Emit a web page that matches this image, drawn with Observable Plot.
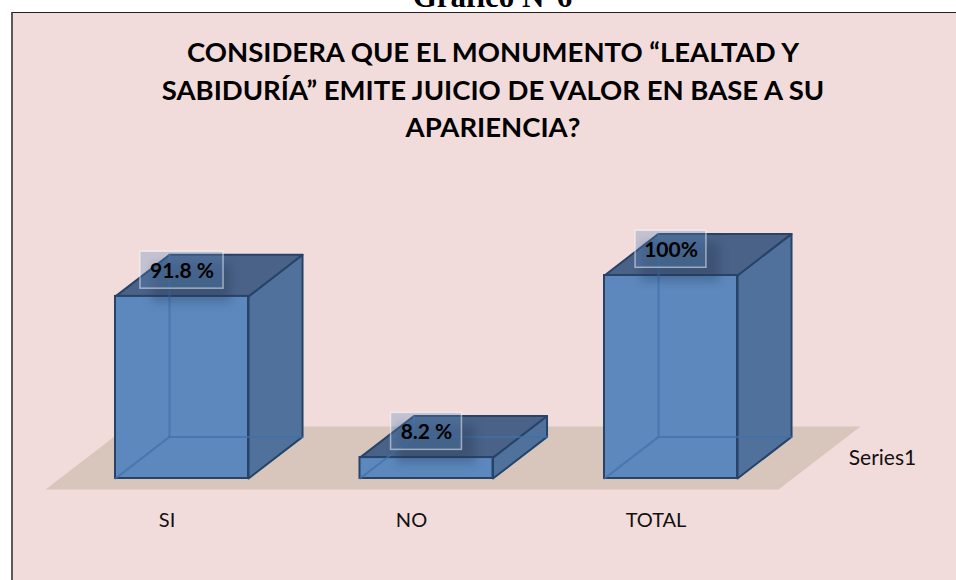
<!DOCTYPE html>
<html lang="es">
<head>
<meta charset="utf-8">
<script src="https://cdn.jsdelivr.net/npm/d3@7"></script>
<script src="https://cdn.jsdelivr.net/npm/@observablehq/plot@0.6"></script>
<style>
  html, body { margin: 0; padding: 0; background: #fff; }
  body { position: relative; width: 956px; height: 580px; overflow: hidden; }
  #panel { position: absolute; left: 11px; top: 12px; width: 1000px; height: 640px; background: #f2dcdb;
           border-left: 2px solid #5a5a5a; border-top: 1px solid #222; }
  #head { position: absolute; left: 0; width: 985px; top: -17px; text-align: center;
          font: bold 31px "Liberation Serif", serif; color: #000; line-height: 28px; }
  #title { position: absolute; left: 8px; width: 970px; top: 33px; text-align: center;
           font: bold 27.5px Lato, sans-serif; color: #000; line-height: 37.5px; }
  #chart { position: absolute; left: 0; top: 0; }
</style>
</head>
<body>
<div id="panel"></div>
<div id="head">Gráfico N°6</div>
<div id="title">CONSIDERA QUE EL MONUMENTO “LEALTAD Y<br>SABIDURÍA” EMITE JUICIO DE VALOR EN BASE A SU<br>APARIENCIA?</div>
<div id="chart"></div>
<script>
// Categories, the bar heights as drawn in the picture, and the printed labels
const categories = ["SI", "NO", "TOTAL"];
const barValues = [89.7, 10.3, 100];
const barLabels = ["91.8 %", "8.2 %", "100%"];
const seriesName = "Series1";

// Box proportions, in the units of the x (category) and y (percent) scales
const halfWidth = 0.272;
const depthX = 0.221;
const depthY = 20.5;

const bars = categories.map((c, i) => ({
  i, c, v: barValues[i], label: barLabels[i],
  x0: i - halfWidth, x1: i + halfWidth
}));

const poly = (fn) => bars.flatMap((b) =>
  fn(b).map(([x, y]) => ({ x, y, z: b.c }))
);

const floor = [[-0.558, -5.4], [2.44, -5.4], [2.775, 25.6], [-0.223, 25.6]]
  .map(([x, y]) => ({ x, y }));

const side = poly((b) => [[b.x1, 0], [b.x1 + depthX, depthY], [b.x1 + depthX, b.v + depthY], [b.x1, b.v], [b.x1, 0]]);
const top_ = poly((b) => [[b.x0, b.v], [b.x0 + depthX, b.v + depthY], [b.x1 + depthX, b.v + depthY], [b.x1, b.v], [b.x0, b.v]]);
const backV = poly((b) => [[b.x0 + depthX, b.v + depthY], [b.x0 + depthX, depthY]]);
const backH = poly((b) => [[b.x0, 0], [b.x0 + depthX, depthY], [b.x1 + depthX, depthY]]);

const boxHalf = (d) => (d.label.length > 5 ? 0.17 : 0.145);

const edge = "#274468";
const sans = "Lato, sans-serif";

const plot = Plot.plot({
  width: 956,
  height: 580,
  margin: 0,
  marginBottom: 68,
  style: { background: "transparent", overflow: "visible" },
  x: { type: "linear", domain: [0, 2], range: [181.5, 670.5] },
  y: { type: "linear", domain: [0, 100], range: [478, 275], axis: null },
  marks: [
    Plot.line(floor, { x: "x", y: "y", fill: "#d8c6bc", stroke: "none" }),
    // side and top faces
    Plot.line(side, { x: "x", y: "y", z: "z", fill: "#50719b", stroke: edge, strokeWidth: 2, strokeLinejoin: "round" }),
    Plot.line(top_, { x: "x", y: "y", z: "z", fill: "#4a6287", stroke: edge, strokeWidth: 2, strokeLinejoin: "round" }),
    // front faces
    Plot.rect(bars, { x1: "x0", x2: "x1", y1: 0, y2: "v", fill: "#5c88bd", stroke: edge, strokeWidth: 2 }),
    // hidden edges showing through
    Plot.line(backV, { x: "x", y: "y", z: "z", stroke: "#3f70a8", strokeOpacity: 0.7, strokeWidth: 2 }),
    Plot.line(backH, { x: "x", y: "y", z: "z", stroke: "#3f70a8", strokeOpacity: 0.7, strokeWidth: 2 }),
    // soft shadow of the label boxes
    Plot.rect(bars, { x1: (d) => d.i - 0.12, x2: (d) => d.i + 0.2, y1: (d) => d.v - 3, y2: (d) => d.v + 16,
      fill: "#1f3350", fillOpacity: 0.3, imageFilter: "blur(5px)" }),
    // label boxes
    Plot.rect(bars, { x1: (d) => d.i - boxHalf(d), x2: (d) => d.i + boxHalf(d), y1: (d) => d.v + 3.8, y2: (d) => d.v + 22,
      fill: "#5b87bd", fillOpacity: 0.3, stroke: "#fff", strokeOpacity: 0.5, strokeWidth: 1.5 }),
    Plot.text(bars, { x: "i", y: (d) => d.v + 12.4, text: "label", fontFamily: sans,
      fontWeight: 700, fontSize: 21, fill: "#000" }),
    // category axis
    Plot.axisX({ ticks: [0, 1, 2], tickFormat: (i) => categories[i], tickSize: 0, tickPadding: 0, dx: -15,
      fontFamily: sans, fontSize: 20, fill: "#111", label: null }),
    // depth axis label
    Plot.text([seriesName], { x: () => 2.865, y: () => 9.85, text: (d) => d, fontFamily: sans, fontSize: 21, fill: "#111" })
  ]
});
document.getElementById("chart").appendChild(plot);
</script>
</body>
</html>
